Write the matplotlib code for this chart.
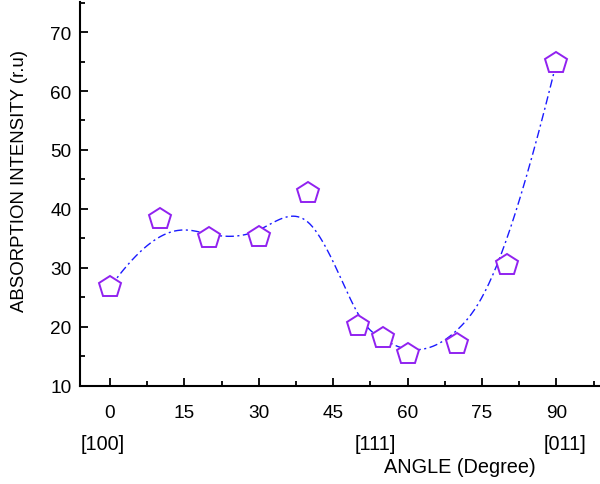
import numpy as np
import matplotlib.pyplot as plt
from matplotlib.ticker import MultipleLocator
import matplotlib.transforms as mtransforms

angle = [0, 10, 20, 30, 40, 50, 55, 60, 70, 80, 90]
intensity = [26.7, 38.3, 35.0, 35.2, 42.7, 20.1, 18.05, 15.4, 17.1, 30.4, 64.8]
xticks = [0, 15, 30, 45, 60, 75, 90]
yticks = [10, 20, 30, 40, 50, 60, 70]
directions = ['[100]', '[111]', '[011]']
direction_pos = [-1.5, 53.4, 91.8]


def bspline(px, py, deg=3, num=500):
    # clamped uniform B-spline with the data points as control points
    px = np.asarray(px, float)
    py = np.asarray(py, float)
    n = len(px)
    knots = np.concatenate([np.zeros(deg), np.arange(n - deg + 1), np.full(deg, n - deg)])
    t = np.linspace(0, n - deg, num)
    t[-1] -= 1e-9
    B = np.zeros((num, len(knots) - 1))
    for i in range(len(knots) - 1):
        B[:, i] = (knots[i] <= t) & (t < knots[i + 1])
    for d in range(1, deg + 1):
        Bn = np.zeros((num, len(knots) - 1 - d))
        for i in range(len(knots) - 1 - d):
            left = knots[i + d] - knots[i]
            right = knots[i + d + 1] - knots[i + 1]
            term = np.zeros(num)
            if left > 0:
                term += (t - knots[i]) / left * B[:, i]
            if right > 0:
                term += (knots[i + d + 1] - t) / right * B[:, i + 1]
            Bn[:, i] = term
        B = Bn
    return B @ px, B @ py


plt.rcParams['font.family'] = ['Liberation Sans', 'DejaVu Sans']

fig = plt.figure(figsize=(6, 4.85), dpi=100)
ax = fig.add_axes([0.1333, 0.2027, 0.8667, 0.7911])

cx, cy = bspline(angle, intensity)
ax.plot(cx, cy, color='#1a1aff', lw=1.0, linestyle=(0, (6, 2.5, 1.5, 2.5)), zorder=2)
ax.plot(angle, intensity, linestyle='none', marker='p', ms=16.5,
        mfc='white', mec='#9122f0', mew=1.4, zorder=3)

ax.set_xlim(-6.05, 98.8)
ax.set_ylim(10, 75.1)
ax.set_xticks(xticks)
ax.set_yticks(yticks)
ax.xaxis.set_minor_locator(MultipleLocator(7.5))
ax.yaxis.set_minor_locator(MultipleLocator(5))

for s in ['top', 'right']:
    ax.spines[s].set_visible(False)
for s in ['left', 'bottom']:
    ax.spines[s].set_linewidth(1.5)

ax.tick_params(which='major', direction='in', length=6, width=1.3, labelsize=13.7)
ax.tick_params(which='minor', direction='in', length=3.5, width=1.3)
ax.tick_params(axis='x', which='major', pad=13)
ax.tick_params(axis='y', which='major', pad=6)

ax.set_ylabel('ABSORPTION INTENSITY (r.u)', fontsize=13.4)
ax.yaxis.set_label_coords(-0.10, 0.537)

trans = mtransforms.blended_transform_factory(ax.transData, ax.transAxes)
for lab, pos in zip(directions, direction_pos):
    ax.text(pos, -0.151, lab, transform=trans, ha='center', va='center', fontsize=14.3)
ax.text(70.5, -0.211, 'ANGLE (Degree)', transform=trans, ha='center', va='center', fontsize=14.3)

plt.savefig('out.png', dpi=100)
